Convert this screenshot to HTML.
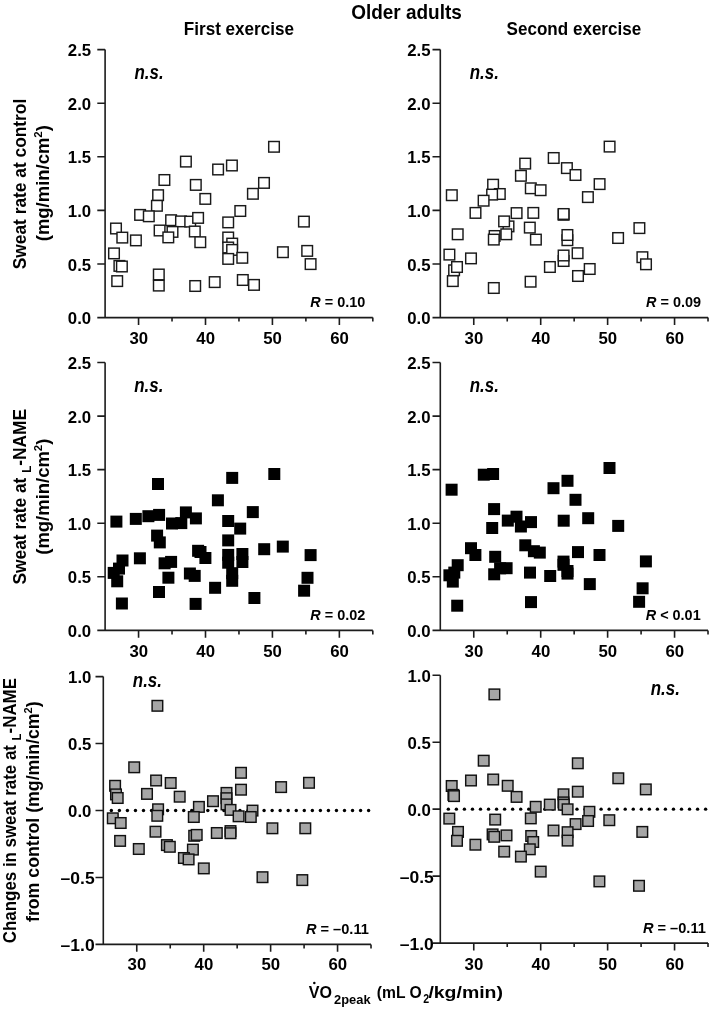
<!DOCTYPE html><html><head><meta charset="utf-8"><style>html,body{margin:0;padding:0;background:#fff}svg{display:block;filter:grayscale(1)}text{font-family:"Liberation Sans",sans-serif;font-weight:bold;fill:#000}</style></head><body><svg width="709" height="1010" viewBox="0 0 709 1010"><rect width="709" height="1010" fill="#fff"/><path d="M105.1 49.6V317.6H372.82M97.3 317.6H105.1M97.3 264H105.1M97.3 210.4H105.1M97.3 156.8H105.1M97.3 103.2H105.1M97.3 49.6H105.1M138.56 317.6V324.9M172.03 317.6V321.6M205.5 317.6V324.9M238.96 317.6V321.6M272.42 317.6V324.9M305.89 317.6V321.6M339.36 317.6V324.9M372.82 317.6V321.6" fill="none" stroke="#1c1c1c" stroke-width="1.6"/><g fill="#fff" stroke="#1a1a1a" stroke-width="1.45"><rect x="180.6" y="156.3" width="10.6" height="10.6"/><rect x="212.8" y="164.2" width="10.6" height="10.6"/><rect x="226.6" y="160.2" width="10.6" height="10.6"/><rect x="159.1" y="174.7" width="10.6" height="10.6"/><rect x="190.5" y="179.6" width="10.6" height="10.6"/><rect x="152.8" y="189.9" width="10.6" height="10.6"/><rect x="200" y="193.6" width="10.6" height="10.6"/><rect x="151.6" y="200.5" width="10.6" height="10.6"/><rect x="235" y="205.7" width="10.6" height="10.6"/><rect x="134.8" y="209.6" width="10.6" height="10.6"/><rect x="143.5" y="211" width="10.6" height="10.6"/><rect x="165.8" y="214.9" width="10.6" height="10.6"/><rect x="175.7" y="216.1" width="10.6" height="10.6"/><rect x="184.9" y="216.3" width="10.6" height="10.6"/><rect x="192.8" y="212.6" width="10.6" height="10.6"/><rect x="222.9" y="217.1" width="10.6" height="10.6"/><rect x="110.7" y="223.2" width="10.6" height="10.6"/><rect x="154.3" y="225.2" width="10.6" height="10.6"/><rect x="167.2" y="226.6" width="10.6" height="10.6"/><rect x="189.5" y="226.2" width="10.6" height="10.6"/><rect x="163" y="232.1" width="10.6" height="10.6"/><rect x="117" y="232.3" width="10.6" height="10.6"/><rect x="130.6" y="235.1" width="10.6" height="10.6"/><rect x="195" y="236.9" width="10.6" height="10.6"/><rect x="222.9" y="232.2" width="10.6" height="10.6"/><rect x="226.9" y="238.3" width="10.6" height="10.6"/><rect x="222.9" y="242.2" width="10.6" height="10.6"/><rect x="226.8" y="244.6" width="10.6" height="10.6"/><rect x="222.9" y="253.6" width="10.6" height="10.6"/><rect x="237" y="252.5" width="10.6" height="10.6"/><rect x="108.7" y="248.1" width="10.6" height="10.6"/><rect x="114.1" y="260.6" width="10.6" height="10.6"/><rect x="116.6" y="261.2" width="10.6" height="10.6"/><rect x="111.9" y="275.8" width="10.6" height="10.6"/><rect x="153.5" y="269.2" width="10.6" height="10.6"/><rect x="153.5" y="280.3" width="10.6" height="10.6"/><rect x="189.9" y="280.7" width="10.6" height="10.6"/><rect x="209.4" y="276.8" width="10.6" height="10.6"/><rect x="237.5" y="274.7" width="10.6" height="10.6"/><rect x="248.7" y="279.6" width="10.6" height="10.6"/><rect x="268.7" y="141.5" width="10.6" height="10.6"/><rect x="258.7" y="177.6" width="10.6" height="10.6"/><rect x="247.6" y="188.5" width="10.6" height="10.6"/><rect x="298.6" y="216.3" width="10.6" height="10.6"/><rect x="277.6" y="246.9" width="10.6" height="10.6"/><rect x="301.9" y="245.6" width="10.6" height="10.6"/><rect x="305.3" y="258.8" width="10.6" height="10.6"/></g><text x="91.2" y="324.1" font-size="16.8" text-anchor="end">0.0</text><text x="91.2" y="270.5" font-size="16.8" text-anchor="end">0.5</text><text x="91.2" y="216.9" font-size="16.8" text-anchor="end">1.0</text><text x="91.2" y="163.3" font-size="16.8" text-anchor="end">1.5</text><text x="91.2" y="109.7" font-size="16.8" text-anchor="end">2.0</text><text x="91.2" y="56.1" font-size="16.8" text-anchor="end">2.5</text><text x="138.76" y="344" font-size="16.8" text-anchor="middle">30</text><text x="205.69" y="344" font-size="16.8" text-anchor="middle">40</text><text x="272.62" y="344" font-size="16.8" text-anchor="middle">50</text><text x="339.56" y="344" font-size="16.8" text-anchor="middle">60</text><text x="134.4" y="78.9" font-size="19.5" font-style="italic" textLength="29.2" lengthAdjust="spacingAndGlyphs">n.s.</text><text x="310.3" y="307.1" font-size="14.2" textLength="55.0" lengthAdjust="spacingAndGlyphs"><tspan font-style="italic">R</tspan> = 0.10</text><path d="M440.3 49.6V317.6H708.02M432.5 317.6H440.3M432.5 264H440.3M432.5 210.4H440.3M432.5 156.8H440.3M432.5 103.2H440.3M432.5 49.6H440.3M473.76 317.6V324.9M507.23 317.6V321.6M540.7 317.6V324.9M574.16 317.6V321.6M607.62 317.6V324.9M641.09 317.6V321.6M674.56 317.6V324.9M708.02 317.6V321.6" fill="none" stroke="#1c1c1c" stroke-width="1.6"/><g fill="#fff" stroke="#1a1a1a" stroke-width="1.45"><rect x="446.5" y="189.9" width="10.6" height="10.6"/><rect x="519.9" y="158.3" width="10.6" height="10.6"/><rect x="548.4" y="152.7" width="10.6" height="10.6"/><rect x="561.6" y="162.8" width="10.6" height="10.6"/><rect x="570.2" y="169.7" width="10.6" height="10.6"/><rect x="515.6" y="170.5" width="10.6" height="10.6"/><rect x="525.5" y="183" width="10.6" height="10.6"/><rect x="535.3" y="184.9" width="10.6" height="10.6"/><rect x="487.8" y="179.4" width="10.6" height="10.6"/><rect x="494.5" y="188.7" width="10.6" height="10.6"/><rect x="486.8" y="189.3" width="10.6" height="10.6"/><rect x="478.3" y="195.4" width="10.6" height="10.6"/><rect x="470.2" y="207.6" width="10.6" height="10.6"/><rect x="511.3" y="207.8" width="10.6" height="10.6"/><rect x="528" y="207.6" width="10.6" height="10.6"/><rect x="558.3" y="209.5" width="10.6" height="10.6"/><rect x="558.3" y="208.7" width="10.6" height="10.6"/><rect x="503.2" y="221.1" width="10.6" height="10.6"/><rect x="498.8" y="216.1" width="10.6" height="10.6"/><rect x="524.5" y="222.3" width="10.6" height="10.6"/><rect x="452.4" y="229" width="10.6" height="10.6"/><rect x="489.3" y="230.7" width="10.6" height="10.6"/><rect x="488.5" y="234.3" width="10.6" height="10.6"/><rect x="501" y="229" width="10.6" height="10.6"/><rect x="530.6" y="234.3" width="10.6" height="10.6"/><rect x="562.1" y="234.9" width="10.6" height="10.6"/><rect x="562.1" y="229.7" width="10.6" height="10.6"/><rect x="444.1" y="249.3" width="10.6" height="10.6"/><rect x="465.7" y="253.1" width="10.6" height="10.6"/><rect x="558.3" y="255.7" width="10.6" height="10.6"/><rect x="558.3" y="250.2" width="10.6" height="10.6"/><rect x="572.3" y="247.9" width="10.6" height="10.6"/><rect x="448.8" y="265" width="10.6" height="10.6"/><rect x="451.7" y="261.7" width="10.6" height="10.6"/><rect x="447.5" y="275.8" width="10.6" height="10.6"/><rect x="544.6" y="261.7" width="10.6" height="10.6"/><rect x="488.5" y="282.7" width="10.6" height="10.6"/><rect x="525.3" y="276.4" width="10.6" height="10.6"/><rect x="572.7" y="270.7" width="10.6" height="10.6"/><rect x="604.3" y="141.3" width="10.6" height="10.6"/><rect x="594.3" y="178.8" width="10.6" height="10.6"/><rect x="582.6" y="191.8" width="10.6" height="10.6"/><rect x="634.1" y="222.8" width="10.6" height="10.6"/><rect x="612.8" y="232.7" width="10.6" height="10.6"/><rect x="584.4" y="263.7" width="10.6" height="10.6"/><rect x="637.1" y="251.9" width="10.6" height="10.6"/><rect x="640.7" y="259" width="10.6" height="10.6"/></g><text x="430.5" y="324.1" font-size="16.8" text-anchor="end">0.0</text><text x="430.5" y="270.5" font-size="16.8" text-anchor="end">0.5</text><text x="430.5" y="216.9" font-size="16.8" text-anchor="end">1.0</text><text x="430.5" y="163.3" font-size="16.8" text-anchor="end">1.5</text><text x="430.5" y="109.7" font-size="16.8" text-anchor="end">2.0</text><text x="430.5" y="56.1" font-size="16.8" text-anchor="end">2.5</text><text x="473.96" y="344" font-size="16.8" text-anchor="middle">30</text><text x="540.9" y="344" font-size="16.8" text-anchor="middle">40</text><text x="607.83" y="344" font-size="16.8" text-anchor="middle">50</text><text x="674.76" y="344" font-size="16.8" text-anchor="middle">60</text><text x="469.7" y="78.9" font-size="19.5" font-style="italic" textLength="29.2" lengthAdjust="spacingAndGlyphs">n.s.</text><text x="646" y="307.2" font-size="14.2" textLength="55.0" lengthAdjust="spacingAndGlyphs"><tspan font-style="italic">R</tspan> = 0.09</text><path d="M105.1 362.5V630.4H372.82M97.3 630.4H105.1M97.3 576.82H105.1M97.3 523.24H105.1M97.3 469.66H105.1M97.3 416.08H105.1M97.3 362.5H105.1M138.56 630.4V637.7M172.03 630.4V634.4M205.5 630.4V637.7M238.96 630.4V634.4M272.42 630.4V637.7M305.89 630.4V634.4M339.36 630.4V637.7M372.82 630.4V634.4" fill="none" stroke="#1c1c1c" stroke-width="1.6"/><g fill="#000"><rect x="110.4" y="515.6" width="12" height="12"/><rect x="129.8" y="512.9" width="12" height="12"/><rect x="142.4" y="510.2" width="12" height="12"/><rect x="153.1" y="508.9" width="12" height="12"/><rect x="152" y="478" width="12" height="12"/><rect x="151.1" y="529.6" width="12" height="12"/><rect x="153.8" y="536.4" width="12" height="12"/><rect x="133.9" y="552.3" width="12" height="12"/><rect x="116.5" y="554.5" width="12" height="12"/><rect x="113" y="562.6" width="12" height="12"/><rect x="107.7" y="566.9" width="12" height="12"/><rect x="111.2" y="575.3" width="12" height="12"/><rect x="115.9" y="597.5" width="12" height="12"/><rect x="158.6" y="557.3" width="12" height="12"/><rect x="162.4" y="571.7" width="12" height="12"/><rect x="153" y="586" width="12" height="12"/><rect x="166" y="517.5" width="12" height="12"/><rect x="175.3" y="517.1" width="12" height="12"/><rect x="179.9" y="506.4" width="12" height="12"/><rect x="189.9" y="512.4" width="12" height="12"/><rect x="165.1" y="555.9" width="12" height="12"/><rect x="192.1" y="544.8" width="12" height="12"/><rect x="194.5" y="546" width="12" height="12"/><rect x="199.4" y="552" width="12" height="12"/><rect x="183.9" y="567.5" width="12" height="12"/><rect x="188.7" y="569.9" width="12" height="12"/><rect x="189.6" y="597.9" width="12" height="12"/><rect x="226.2" y="471.9" width="12" height="12"/><rect x="211.9" y="494.3" width="12" height="12"/><rect x="246.8" y="506.1" width="12" height="12"/><rect x="222.2" y="515" width="12" height="12"/><rect x="234.2" y="522.6" width="12" height="12"/><rect x="222.2" y="534.4" width="12" height="12"/><rect x="222.2" y="548.9" width="12" height="12"/><rect x="222.2" y="556.7" width="12" height="12"/><rect x="236.4" y="548" width="12" height="12"/><rect x="236.4" y="556" width="12" height="12"/><rect x="226.2" y="567.2" width="12" height="12"/><rect x="226.2" y="574.8" width="12" height="12"/><rect x="209.1" y="581.8" width="12" height="12"/><rect x="248.4" y="592" width="12" height="12"/><rect x="268.3" y="468" width="12" height="12"/><rect x="258.2" y="543.2" width="12" height="12"/><rect x="276.8" y="540.6" width="12" height="12"/><rect x="304.6" y="549.1" width="12" height="12"/><rect x="301.5" y="571.8" width="12" height="12"/><rect x="298.1" y="584.7" width="12" height="12"/></g><text x="91.2" y="636.9" font-size="16.8" text-anchor="end">0.0</text><text x="91.2" y="583.32" font-size="16.8" text-anchor="end">0.5</text><text x="91.2" y="529.74" font-size="16.8" text-anchor="end">1.0</text><text x="91.2" y="476.16" font-size="16.8" text-anchor="end">1.5</text><text x="91.2" y="422.58" font-size="16.8" text-anchor="end">2.0</text><text x="91.2" y="369" font-size="16.8" text-anchor="end">2.5</text><text x="138.76" y="656.8" font-size="16.8" text-anchor="middle">30</text><text x="205.69" y="656.8" font-size="16.8" text-anchor="middle">40</text><text x="272.62" y="656.8" font-size="16.8" text-anchor="middle">50</text><text x="339.56" y="656.8" font-size="16.8" text-anchor="middle">60</text><text x="134.2" y="391.9" font-size="19.5" font-style="italic" textLength="29.2" lengthAdjust="spacingAndGlyphs">n.s.</text><text x="310.3" y="620.1" font-size="14.2" textLength="55.0" lengthAdjust="spacingAndGlyphs"><tspan font-style="italic">R</tspan> = 0.02</text><path d="M440.3 362.5V630.4H708.02M432.5 630.4H440.3M432.5 576.82H440.3M432.5 523.24H440.3M432.5 469.66H440.3M432.5 416.08H440.3M432.5 362.5H440.3M473.76 630.4V637.7M507.23 630.4V634.4M540.7 630.4V637.7M574.16 630.4V634.4M607.62 630.4V637.7M641.09 630.4V634.4M674.56 630.4V637.7M708.02 630.4V634.4" fill="none" stroke="#1c1c1c" stroke-width="1.6"/><g fill="#000"><rect x="445.6" y="483.7" width="12" height="12"/><rect x="477.8" y="468.7" width="12" height="12"/><rect x="487.1" y="468" width="12" height="12"/><rect x="488.1" y="503.1" width="12" height="12"/><rect x="486.2" y="522" width="12" height="12"/><rect x="465" y="542.2" width="12" height="12"/><rect x="469.4" y="549" width="12" height="12"/><rect x="489.2" y="550.8" width="12" height="12"/><rect x="488.2" y="568.3" width="12" height="12"/><rect x="451.7" y="559.2" width="12" height="12"/><rect x="448.3" y="566.6" width="12" height="12"/><rect x="443.4" y="569.3" width="12" height="12"/><rect x="446.8" y="575.6" width="12" height="12"/><rect x="451.2" y="599.7" width="12" height="12"/><rect x="501.8" y="514.6" width="12" height="12"/><rect x="510.5" y="510.7" width="12" height="12"/><rect x="514.9" y="520.5" width="12" height="12"/><rect x="525" y="516.1" width="12" height="12"/><rect x="494.1" y="562.3" width="12" height="12"/><rect x="500.6" y="562.2" width="12" height="12"/><rect x="519.3" y="539.3" width="12" height="12"/><rect x="527.9" y="545.2" width="12" height="12"/><rect x="533.8" y="546.6" width="12" height="12"/><rect x="524" y="566.6" width="12" height="12"/><rect x="525" y="596.1" width="12" height="12"/><rect x="547.5" y="482.2" width="12" height="12"/><rect x="561.5" y="474.8" width="12" height="12"/><rect x="569.5" y="493.8" width="12" height="12"/><rect x="557.7" y="514.7" width="12" height="12"/><rect x="572" y="546.1" width="12" height="12"/><rect x="557.5" y="555.6" width="12" height="12"/><rect x="557.5" y="558.8" width="12" height="12"/><rect x="561.5" y="565" width="12" height="12"/><rect x="561.5" y="567.6" width="12" height="12"/><rect x="544.2" y="570" width="12" height="12"/><rect x="583.8" y="578.1" width="12" height="12"/><rect x="603.5" y="462" width="12" height="12"/><rect x="582.2" y="512.2" width="12" height="12"/><rect x="612.2" y="519.9" width="12" height="12"/><rect x="593.5" y="549" width="12" height="12"/><rect x="639.9" y="555.4" width="12" height="12"/><rect x="636.6" y="582.3" width="12" height="12"/><rect x="633.1" y="595.8" width="12" height="12"/></g><text x="430.5" y="636.9" font-size="16.8" text-anchor="end">0.0</text><text x="430.5" y="583.32" font-size="16.8" text-anchor="end">0.5</text><text x="430.5" y="529.74" font-size="16.8" text-anchor="end">1.0</text><text x="430.5" y="476.16" font-size="16.8" text-anchor="end">1.5</text><text x="430.5" y="422.58" font-size="16.8" text-anchor="end">2.0</text><text x="430.5" y="369" font-size="16.8" text-anchor="end">2.5</text><text x="473.96" y="656.8" font-size="16.8" text-anchor="middle">30</text><text x="540.9" y="656.8" font-size="16.8" text-anchor="middle">40</text><text x="607.83" y="656.8" font-size="16.8" text-anchor="middle">50</text><text x="674.76" y="656.8" font-size="16.8" text-anchor="middle">60</text><text x="469.7" y="391.9" font-size="19.5" font-style="italic" textLength="29.2" lengthAdjust="spacingAndGlyphs">n.s.</text><text x="645.7" y="619.8" font-size="14.2" textLength="55.0" lengthAdjust="spacingAndGlyphs"><tspan font-style="italic">R</tspan> < 0.01</text><g fill="#000"><circle cx="111.34" cy="810.5" r="1.7"/><circle cx="119.38" cy="810.5" r="1.7"/><circle cx="127.42" cy="810.5" r="1.7"/><circle cx="135.46" cy="810.5" r="1.7"/><circle cx="143.5" cy="810.5" r="1.7"/><circle cx="151.54" cy="810.5" r="1.7"/><circle cx="159.58" cy="810.5" r="1.7"/><circle cx="167.62" cy="810.5" r="1.7"/><circle cx="175.66" cy="810.5" r="1.7"/><circle cx="183.7" cy="810.5" r="1.7"/><circle cx="191.74" cy="810.5" r="1.7"/><circle cx="199.78" cy="810.5" r="1.7"/><circle cx="207.82" cy="810.5" r="1.7"/><circle cx="215.86" cy="810.5" r="1.7"/><circle cx="223.9" cy="810.5" r="1.7"/><circle cx="231.94" cy="810.5" r="1.7"/><circle cx="239.98" cy="810.5" r="1.7"/><circle cx="248.02" cy="810.5" r="1.7"/><circle cx="256.06" cy="810.5" r="1.7"/><circle cx="264.1" cy="810.5" r="1.7"/><circle cx="272.14" cy="810.5" r="1.7"/><circle cx="280.18" cy="810.5" r="1.7"/><circle cx="288.22" cy="810.5" r="1.7"/><circle cx="296.26" cy="810.5" r="1.7"/><circle cx="304.3" cy="810.5" r="1.7"/><circle cx="312.34" cy="810.5" r="1.7"/><circle cx="320.38" cy="810.5" r="1.7"/><circle cx="328.42" cy="810.5" r="1.7"/><circle cx="336.46" cy="810.5" r="1.7"/><circle cx="344.5" cy="810.5" r="1.7"/><circle cx="352.54" cy="810.5" r="1.7"/><circle cx="360.58" cy="810.5" r="1.7"/><circle cx="368.62" cy="810.5" r="1.7"/></g><path d="M103.3 676.6V944.4H371.02M95.5 944.4H103.3M95.5 877.45H103.3M95.5 810.5H103.3M95.5 743.55H103.3M95.5 676.6H103.3M136.76 944.4V951.7M170.23 944.4V948.4M203.69 944.4V951.7M237.16 944.4V948.4M270.62 944.4V951.7M304.09 944.4V948.4M337.56 944.4V951.7M371.02 944.4V948.4" fill="none" stroke="#1c1c1c" stroke-width="1.6"/><g fill="#a6a6a6" stroke="#111" stroke-width="1.45"><rect x="152.1" y="700.5" width="10.6" height="10.6"/><rect x="128.9" y="762" width="10.6" height="10.6"/><rect x="109.8" y="780.5" width="10.6" height="10.6"/><rect x="110.7" y="789.1" width="10.6" height="10.6"/><rect x="112.4" y="792.7" width="10.6" height="10.6"/><rect x="150.8" y="775.2" width="10.6" height="10.6"/><rect x="165.4" y="777.7" width="10.6" height="10.6"/><rect x="141.7" y="788.6" width="10.6" height="10.6"/><rect x="152.8" y="804" width="10.6" height="10.6"/><rect x="152" y="810.5" width="10.6" height="10.6"/><rect x="107.5" y="813" width="10.6" height="10.6"/><rect x="115.4" y="817.7" width="10.6" height="10.6"/><rect x="150.2" y="826.4" width="10.6" height="10.6"/><rect x="114.8" y="835.6" width="10.6" height="10.6"/><rect x="133.5" y="843.7" width="10.6" height="10.6"/><rect x="161.6" y="839.8" width="10.6" height="10.6"/><rect x="164.5" y="841.5" width="10.6" height="10.6"/><rect x="174.4" y="791.4" width="10.6" height="10.6"/><rect x="207.7" y="795.9" width="10.6" height="10.6"/><rect x="193.6" y="801.6" width="10.6" height="10.6"/><rect x="188.5" y="811.7" width="10.6" height="10.6"/><rect x="188.9" y="830.5" width="10.6" height="10.6"/><rect x="191.4" y="829.6" width="10.6" height="10.6"/><rect x="211.5" y="827.7" width="10.6" height="10.6"/><rect x="187.6" y="844.3" width="10.6" height="10.6"/><rect x="178.6" y="852.7" width="10.6" height="10.6"/><rect x="183.3" y="854.1" width="10.6" height="10.6"/><rect x="198.5" y="863.1" width="10.6" height="10.6"/><rect x="235.7" y="767.5" width="10.6" height="10.6"/><rect x="235.7" y="784.4" width="10.6" height="10.6"/><rect x="221.2" y="787.6" width="10.6" height="10.6"/><rect x="221.2" y="792.9" width="10.6" height="10.6"/><rect x="221.2" y="799.1" width="10.6" height="10.6"/><rect x="225.2" y="804.6" width="10.6" height="10.6"/><rect x="233.3" y="811" width="10.6" height="10.6"/><rect x="247.2" y="805.3" width="10.6" height="10.6"/><rect x="245.5" y="811.7" width="10.6" height="10.6"/><rect x="225.2" y="825.8" width="10.6" height="10.6"/><rect x="225.2" y="827.9" width="10.6" height="10.6"/><rect x="257.2" y="871.9" width="10.6" height="10.6"/><rect x="267.1" y="823" width="10.6" height="10.6"/><rect x="275.8" y="781.8" width="10.6" height="10.6"/><rect x="303.7" y="777.5" width="10.6" height="10.6"/><rect x="300" y="823" width="10.6" height="10.6"/><rect x="297" y="874.8" width="10.6" height="10.6"/></g><text x="94.7" y="950.9" font-size="16.8" text-anchor="end" textLength="34.1" lengthAdjust="spacingAndGlyphs">–1.0</text><text x="94.7" y="883.95" font-size="16.8" text-anchor="end" textLength="34.1" lengthAdjust="spacingAndGlyphs">–0.5</text><text x="91.4" y="817" font-size="16.8" text-anchor="end">0.0</text><text x="91.4" y="750.05" font-size="16.8" text-anchor="end">0.5</text><text x="91.4" y="683.1" font-size="16.8" text-anchor="end">1.0</text><text x="136.96" y="970.3" font-size="16.8" text-anchor="middle">30</text><text x="203.89" y="970.3" font-size="16.8" text-anchor="middle">40</text><text x="270.82" y="970.3" font-size="16.8" text-anchor="middle">50</text><text x="337.75" y="970.3" font-size="16.8" text-anchor="middle">60</text><text x="132.8" y="686.9" font-size="19.5" font-style="italic" textLength="29.2" lengthAdjust="spacingAndGlyphs">n.s.</text><text x="305.9" y="933.6" font-size="14.2" textLength="63.0" lengthAdjust="spacingAndGlyphs"><tspan font-style="italic">R</tspan> = –0.11</text><g fill="#000"><circle cx="448.34" cy="809.15" r="1.7"/><circle cx="456.38" cy="809.15" r="1.7"/><circle cx="464.42" cy="809.15" r="1.7"/><circle cx="472.46" cy="809.15" r="1.7"/><circle cx="480.5" cy="809.15" r="1.7"/><circle cx="488.54" cy="809.15" r="1.7"/><circle cx="496.58" cy="809.15" r="1.7"/><circle cx="504.62" cy="809.15" r="1.7"/><circle cx="512.66" cy="809.15" r="1.7"/><circle cx="520.7" cy="809.15" r="1.7"/><circle cx="528.74" cy="809.15" r="1.7"/><circle cx="536.78" cy="809.15" r="1.7"/><circle cx="544.82" cy="809.15" r="1.7"/><circle cx="552.86" cy="809.15" r="1.7"/><circle cx="560.9" cy="809.15" r="1.7"/><circle cx="568.94" cy="809.15" r="1.7"/><circle cx="576.98" cy="809.15" r="1.7"/><circle cx="585.02" cy="809.15" r="1.7"/><circle cx="593.06" cy="809.15" r="1.7"/><circle cx="601.1" cy="809.15" r="1.7"/><circle cx="609.14" cy="809.15" r="1.7"/><circle cx="617.18" cy="809.15" r="1.7"/><circle cx="625.22" cy="809.15" r="1.7"/><circle cx="633.26" cy="809.15" r="1.7"/><circle cx="641.3" cy="809.15" r="1.7"/><circle cx="649.34" cy="809.15" r="1.7"/><circle cx="657.38" cy="809.15" r="1.7"/><circle cx="665.42" cy="809.15" r="1.7"/><circle cx="673.46" cy="809.15" r="1.7"/><circle cx="681.5" cy="809.15" r="1.7"/><circle cx="689.54" cy="809.15" r="1.7"/><circle cx="697.58" cy="809.15" r="1.7"/><circle cx="705.62" cy="809.15" r="1.7"/></g><path d="M440.3 675.2V943.1H708.02M432.5 943.1H440.3M432.5 876.12H440.3M432.5 809.15H440.3M432.5 742.18H440.3M432.5 675.2H440.3M473.76 943.1V950.4M507.23 943.1V947.1M540.7 943.1V950.4M574.16 943.1V947.1M607.62 943.1V950.4M641.09 943.1V947.1M674.56 943.1V950.4M708.02 943.1V947.1" fill="none" stroke="#1c1c1c" stroke-width="1.6"/><g fill="#a6a6a6" stroke="#111" stroke-width="1.45"><rect x="489.1" y="689.1" width="10.6" height="10.6"/><rect x="478.4" y="755.4" width="10.6" height="10.6"/><rect x="465.7" y="775.2" width="10.6" height="10.6"/><rect x="487.9" y="774.2" width="10.6" height="10.6"/><rect x="502.4" y="780.5" width="10.6" height="10.6"/><rect x="446.4" y="780.7" width="10.6" height="10.6"/><rect x="448.1" y="789.6" width="10.6" height="10.6"/><rect x="448.7" y="790.8" width="10.6" height="10.6"/><rect x="444" y="813.3" width="10.6" height="10.6"/><rect x="489.9" y="814.3" width="10.6" height="10.6"/><rect x="452.7" y="826.6" width="10.6" height="10.6"/><rect x="451.7" y="835.5" width="10.6" height="10.6"/><rect x="470.1" y="839.4" width="10.6" height="10.6"/><rect x="487.3" y="829.1" width="10.6" height="10.6"/><rect x="488.9" y="831.5" width="10.6" height="10.6"/><rect x="501.2" y="830.1" width="10.6" height="10.6"/><rect x="498.9" y="846.3" width="10.6" height="10.6"/><rect x="511.3" y="791.6" width="10.6" height="10.6"/><rect x="530.4" y="801.5" width="10.6" height="10.6"/><rect x="525.5" y="813.1" width="10.6" height="10.6"/><rect x="544.5" y="799.3" width="10.6" height="10.6"/><rect x="525.9" y="830.7" width="10.6" height="10.6"/><rect x="527.9" y="836.7" width="10.6" height="10.6"/><rect x="524.5" y="844" width="10.6" height="10.6"/><rect x="515.6" y="851.3" width="10.6" height="10.6"/><rect x="535.4" y="866.3" width="10.6" height="10.6"/><rect x="548.2" y="825.2" width="10.6" height="10.6"/><rect x="572.5" y="758" width="10.6" height="10.6"/><rect x="572.5" y="786.4" width="10.6" height="10.6"/><rect x="558.2" y="789" width="10.6" height="10.6"/><rect x="558.2" y="797.1" width="10.6" height="10.6"/><rect x="558.5" y="799.4" width="10.6" height="10.6"/><rect x="562.3" y="804" width="10.6" height="10.6"/><rect x="584.1" y="806.5" width="10.6" height="10.6"/><rect x="582.8" y="815.7" width="10.6" height="10.6"/><rect x="570.3" y="818.8" width="10.6" height="10.6"/><rect x="562.3" y="826.9" width="10.6" height="10.6"/><rect x="562.3" y="835.3" width="10.6" height="10.6"/><rect x="604" y="814.9" width="10.6" height="10.6"/><rect x="613" y="773" width="10.6" height="10.6"/><rect x="640.5" y="784.1" width="10.6" height="10.6"/><rect x="637" y="826.6" width="10.6" height="10.6"/><rect x="594.1" y="876.1" width="10.6" height="10.6"/><rect x="633.7" y="880.5" width="10.6" height="10.6"/></g><text x="433.8" y="949.6" font-size="16.8" text-anchor="end" textLength="34.1" lengthAdjust="spacingAndGlyphs">–1.0</text><text x="433.8" y="882.62" font-size="16.8" text-anchor="end" textLength="34.1" lengthAdjust="spacingAndGlyphs">–0.5</text><text x="430.8" y="815.65" font-size="16.8" text-anchor="end">0.0</text><text x="430.8" y="748.68" font-size="16.8" text-anchor="end">0.5</text><text x="430.8" y="681.7" font-size="16.8" text-anchor="end">1.0</text><text x="473.96" y="970.2" font-size="16.8" text-anchor="middle">30</text><text x="540.9" y="970.2" font-size="16.8" text-anchor="middle">40</text><text x="607.83" y="970.2" font-size="16.8" text-anchor="middle">50</text><text x="674.76" y="970.2" font-size="16.8" text-anchor="middle">60</text><text x="650.7" y="695.3" font-size="19.5" font-style="italic" textLength="29.2" lengthAdjust="spacingAndGlyphs">n.s.</text><text x="642.9" y="932.8" font-size="14.2" textLength="63.0" lengthAdjust="spacingAndGlyphs"><tspan font-style="italic">R</tspan> = –0.11</text><text x="406.5" y="18.9" font-size="19.3" text-anchor="middle" textLength="110.6" lengthAdjust="spacingAndGlyphs">Older adults</text><text x="238.9" y="34.8" font-size="17.6" text-anchor="middle" textLength="110.2" lengthAdjust="spacingAndGlyphs">First exercise</text><text x="573.9" y="35.1" font-size="17.6" text-anchor="middle" textLength="134.6" lengthAdjust="spacingAndGlyphs">Second exercise</text><text transform="translate(25.7 184) rotate(-90)" font-size="17.8" text-anchor="middle" textLength="170.5" lengthAdjust="spacingAndGlyphs">Sweat rate at control</text><text transform="translate(48.9 183.2) rotate(-90)" font-size="17.8" text-anchor="middle" textLength="116.0" lengthAdjust="spacingAndGlyphs">(mg/min/cm<tspan font-size="11" dy="-7">2</tspan><tspan dy="7">)</tspan></text><text transform="translate(25.8 496.7) rotate(-90)" font-size="17.8" text-anchor="middle" textLength="175.5" lengthAdjust="spacingAndGlyphs">Sweat rate at <tspan font-size="12" dy="5.3">L</tspan><tspan dy="-5.3">-NAME</tspan></text><text transform="translate(48.9 496.7) rotate(-90)" font-size="17.8" text-anchor="middle" textLength="116.0" lengthAdjust="spacingAndGlyphs">(mg/min/cm<tspan font-size="11" dy="-7">2</tspan><tspan dy="7">)</tspan></text><text transform="translate(15.9 810.6) rotate(-90)" font-size="17.8" text-anchor="middle" textLength="265.1" lengthAdjust="spacingAndGlyphs">Changes in sweat rate at <tspan font-size="12" dy="5.3">L</tspan><tspan dy="-5.3">-NAME</tspan></text><text transform="translate(39.1 811.7) rotate(-90)" font-size="17.8" text-anchor="middle" textLength="220.6" lengthAdjust="spacingAndGlyphs">from control (mg/min/cm<tspan font-size="11" dy="-7">2</tspan><tspan dy="7">)</tspan></text><text x="308.8" y="998.2" font-size="17.0" textLength="23.2" lengthAdjust="spacingAndGlyphs">VO</text><text x="334.1" y="1003.6" font-size="13.5" textLength="36.5" lengthAdjust="spacingAndGlyphs">2peak</text><text x="376.8" y="998.2" font-size="17.0" textLength="44.9" lengthAdjust="spacingAndGlyphs">(mL O</text><text x="423.3" y="1003.4" font-size="13.5" textLength="5.9" lengthAdjust="spacingAndGlyphs">2</text><text x="428.4" y="998.2" font-size="17.0" textLength="74.6" lengthAdjust="spacingAndGlyphs">/kg/min)</text><circle cx="314.3" cy="983" r="1.25" fill="#000"/></svg></body></html>
